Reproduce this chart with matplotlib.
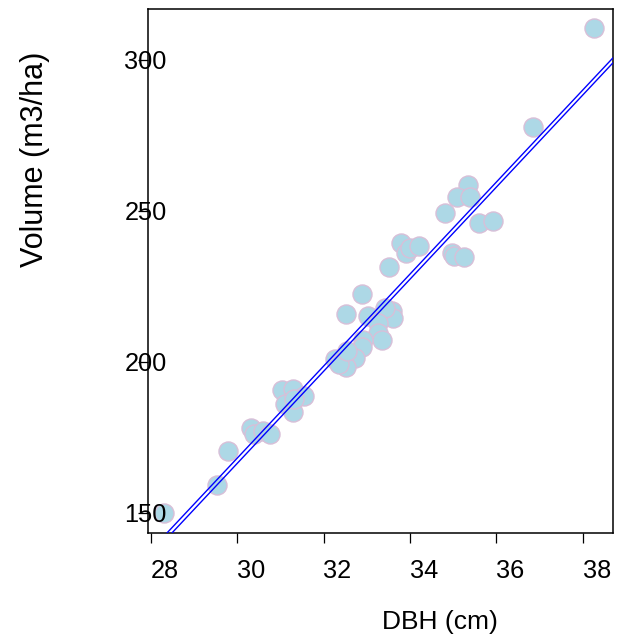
import matplotlib
matplotlib.use("Agg")
import matplotlib.pyplot as plt
from matplotlib.transforms import blended_transform_factory, offset_copy

plt.rcParams['font.family'] = ['Liberation Sans', 'DejaVu Sans']

# ---- data ----
dbh = [38.25, 36.86, 35.34, 35.09, 35.40, 34.82, 35.61, 35.92, 33.80, 33.91,
       34.00, 34.20, 34.97, 35.03, 35.25, 33.51, 32.89, 32.52, 33.04, 33.59,
       33.62, 33.42, 33.27, 33.26, 33.36, 32.91, 32.88, 32.74, 32.52, 32.27,
       32.36, 32.54, 31.05, 31.30, 31.55, 31.10, 31.30, 31.32, 30.32, 30.39,
       30.60, 30.76, 29.78, 29.53, 28.31]
volume = [310.5, 277.8, 258.7, 254.6, 254.6, 249.4, 246.0, 246.7, 239.3, 236.2,
          237.7, 238.5, 236.1, 235.0, 234.8, 231.5, 222.6, 216.0, 215.2, 217.0,
          214.7, 218.0, 213.0, 209.6, 207.2, 207.3, 205.1, 201.2, 198.4, 201.0,
          199.2, 203.7, 190.9, 191.2, 188.9, 186.1, 183.4, 187.8, 178.0, 176.1,
          177.2, 176.1, 170.6, 159.2, 150.0]
line_intercepts = [-289.06, -291.10]
line_slopes = [15.24, 15.25]
xticks = [28, 30, 32, 34, 36, 38]
yticks = [150, 200, 250, 300]
xlabel = "DBH (cm)"
ylabel = "Volume (m3/ha)"

# ---- figure ----
fig = plt.figure(figsize=(6.27, 6.39), dpi=100)
ax = fig.add_axes([0.2365, 0.1664, 0.7407, 0.8195])
ax.set_xlim(27.944, 38.694)
ax.set_ylim(143.5, 316.9)

ax.scatter(dbh, volume, s=188, facecolor='#ADD8E6', edgecolor='#D8BFD8',
           linewidths=1.0, zorder=2)
for b, m in zip(line_intercepts, line_slopes):
    ax.axline((0, b), slope=m, color='#0000FF', lw=1.0, zorder=3)

for sp in ax.spines.values():
    sp.set_linewidth(1.1)
    sp.set_color('black')

ax.set_xticks(xticks)
ax.set_yticks(yticks)
ax.set_xticklabels([])
ax.set_yticklabels([])
ax.tick_params(axis='both', direction='out', length=7.5, width=0.9, color='black')

# tick labels (drawn as text, matching R-like placement)
tx = blended_transform_factory(ax.transData, ax.transAxes)
tx_off = offset_copy(tx, fig=fig, x=14, y=0, units='dots')
for v in xticks:
    ax.text(v, -0.074, str(v), transform=tx_off, ha='center', va='center',
            fontsize=18.3)
ty = blended_transform_factory(ax.transAxes, ax.transData)
ty_off = offset_copy(ty, fig=fig, x=0, y=-2, units='dots')
for v in yticks:
    ax.text(-0.0058, v, str(v), transform=ty_off, ha='center', va='center',
            fontsize=18.3)

fig.text(440 / 627, 1 - 622 / 639, xlabel, ha='center', va='center', fontsize=19)
fig.text(35 / 627, 1 - 159 / 639, ylabel, ha='center', va='center', fontsize=22,
         rotation=90)

fig.savefig("out.png", dpi=100)
